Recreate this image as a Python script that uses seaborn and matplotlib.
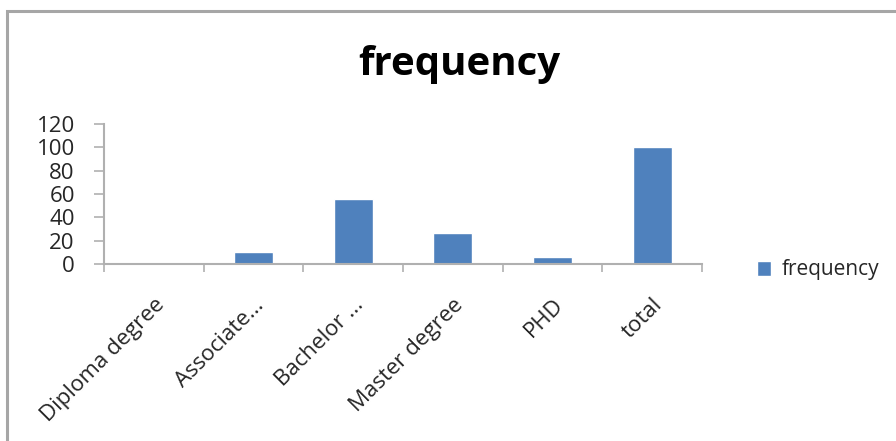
import matplotlib
matplotlib.use("Agg")
import matplotlib.pyplot as plt
import seaborn as sns
import pandas as pd
from matplotlib.patches import Rectangle
from matplotlib.ticker import FixedLocator

categories = ["Diploma degree", "Associate...", "Bachelor ...", "Master degree", "PHD", "total"]
frequency = [1, 10, 56, 27, 6, 100]
y_ticks = [0, 20, 40, 60, 80, 100, 120]

sns.set_theme(style="white")
plt.rcParams["font.family"] = ["Open Sans", "DejaVu Sans"]

df = pd.DataFrame({"category": categories, "frequency": frequency})

fig = plt.figure(figsize=(8.96, 4.41), dpi=100)
fig.patch.set_facecolor("white")

# chart frame (only the top and left edges fall inside the canvas)
fig.add_artist(Rectangle((7 / 896, -0.1), 1.2, 1 - 11 / 441 + 0.1,
                         transform=fig.transFigure, fill=False,
                         edgecolor="#a6a6a6", linewidth=2.2))

ax = fig.add_axes([104 / 896, 1 - 264 / 441, (702 - 104) / 896, (264 - 124) / 441])
sns.barplot(data=df, x="category", y="frequency", color="#4f81bd",
            width=0.39, saturation=1, ax=ax, label="frequency")

ax.set_ylim(0, 120)
ax.set_xlim(-0.5, len(categories) - 0.5)
ax.set_yticks(y_ticks)
ax.set_yticklabels([str(v) for v in y_ticks], fontsize=16)
ax.set_xlabel("")
ax.set_ylabel("")

for side in ("top", "right"):
    ax.spines[side].set_visible(False)
for side in ("left", "bottom"):
    ax.spines[side].set_color("#b0b0b0")
    ax.spines[side].set_linewidth(1.5)

ax.tick_params(axis="y", left=True, length=7, width=1.2, color="#b0b0b0", pad=14)
ax.set_xticks(range(len(categories)))
ax.set_xticklabels(categories, rotation=45, ha="right", rotation_mode="anchor",
                   fontsize=16)
ax.tick_params(axis="x", which="major", bottom=False, length=0, pad=22)
ax.xaxis.set_minor_locator(FixedLocator([i - 0.5 for i in range(len(categories) + 1)]))
ax.tick_params(axis="x", which="minor", bottom=True, length=6, width=1.2,
               color="#b0b0b0")
for lbl in ax.get_xticklabels():
    lbl.set_color("#262626")
for lbl in ax.get_yticklabels():
    lbl.set_color("#262626")

ax.legend(loc="center left", bbox_to_anchor=(738 / 896, 1 - 270 / 441),
          bbox_transform=fig.transFigure, frameon=False, fontsize=15,
          handlelength=0.7, handleheight=0.7, handletextpad=0.5)

fig.text(459 / 896, 1 - 64 / 441, "frequency", ha="center", va="center",
         fontsize=29, fontweight="bold", color="black")

fig.savefig("out.png", dpi=100)
